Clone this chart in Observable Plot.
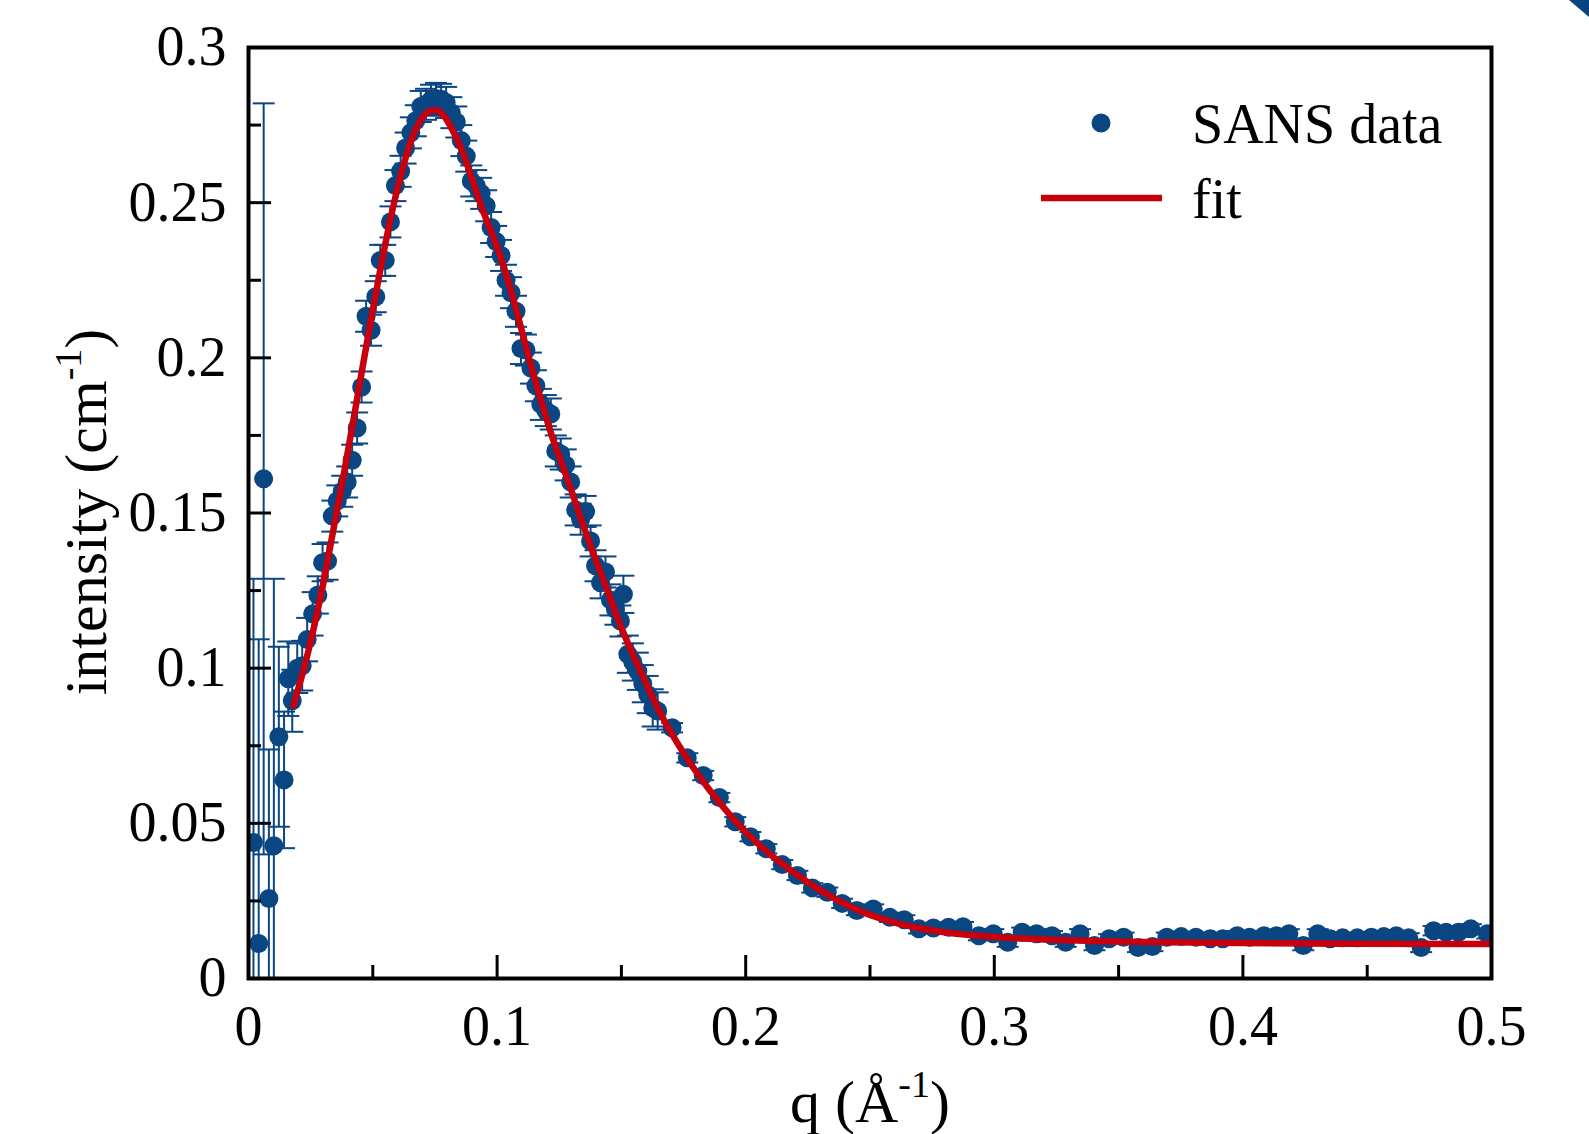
<!DOCTYPE html>
<html>
<head>
<meta charset="utf-8">
<script src="https://cdn.jsdelivr.net/npm/d3@7"></script>
<script src="https://cdn.jsdelivr.net/npm/@observablehq/plot@0.6"></script>
<style>
html,body{margin:0;padding:0;background:#fff;}
#chart{position:relative;width:1589px;height:1134px;overflow:hidden;background:#fff;}
.corner{position:absolute;right:0;top:0;width:20px;height:17px;background:#0a4480;clip-path:polygon(0 0,100% 0,100% 100%);}
</style>
</head>
<body>
<div id="chart"><div class="corner"></div></div>
<script>
// ---- SANS data (q in 1/Å, intensity in 1/cm, error bar half-length) ----
const qData = [
0.0020,0.0041,0.0061,0.0082,0.0102,0.0122,0.0143,0.0160,0.0176,0.0196,
0.0216,0.0236,0.0258,0.0279,0.0298,0.0318,0.0337,0.0357,0.0377,0.0397,
0.0417,0.0437,0.0455,0.0473,0.0493,0.0512,0.0530,0.0550,0.0571,0.0591,
0.0612,0.0632,0.0653,0.0673,0.0693,0.0714,0.0734,0.0754,0.0775,0.0795,
0.0816,0.0836,0.0856,0.0876,0.0896,0.0916,0.0936,0.0956,0.0976,0.0996,
0.1016,0.1036,0.1056,0.1076,0.1096,0.1116,0.1136,0.1156,0.1176,0.1196,
0.1216,0.1236,0.1256,0.1276,0.1296,0.1316,0.1336,0.1356,0.1376,0.1396,
0.1416,0.1436,0.1456,0.1476,0.1496,0.1508,0.1526,0.1546,0.1566,0.1586,
0.1606,0.1626,0.1646,
0.1704,0.1765,0.1829,0.1894,0.1958,0.2019,0.2083,0.2147,0.2208,0.2268,
0.2328,0.2388,0.2447,0.2513,0.2580,0.2638,0.2697,0.2755,0.2816,0.2874,
0.2938,0.2996,0.3054,0.3112,0.3170,0.3232,0.3287,0.3345,0.3403,0.3462,
0.3520,0.3578,0.3636,0.3694,0.3752,0.3811,0.3869,0.3919,0.3977,0.4027,
0.4085,0.4135,0.4185,0.4243,0.4301,0.4351,0.4401,0.4460,0.4517,0.4567,
0.4617,0.4667,0.4717,0.4767,0.4817,0.4867,0.4917,0.4983
];
const iData = [
0.0438,0.0113,0.1610,0.0258,0.0428,0.0779,0.0640,0.0966,0.0895,0.1000,
0.1008,0.1092,0.1175,0.1236,0.1340,0.1345,0.1490,0.1539,0.1570,0.1600,
0.1670,0.1774,0.1906,0.2134,0.2089,0.2197,0.2314,0.2314,0.2438,0.2555,
0.2601,0.2676,0.2725,0.2764,0.2810,0.2817,0.2830,0.2836,0.2833,0.2823,
0.2790,0.2760,0.2700,0.2650,0.2570,0.2555,0.2530,0.2490,0.2420,0.2375,
0.2330,0.2250,0.2210,0.2150,0.2030,0.2025,0.1967,0.1910,0.1850,0.1830,
0.1819,0.1700,0.1690,0.1655,0.1600,0.1510,0.1480,0.1505,0.1410,0.1330,
0.1275,0.1310,0.1220,0.1190,0.1152,0.1238,0.1045,0.1020,0.0990,0.0950,
0.0915,0.0872,0.0862,
0.0808,0.0711,0.0654,0.0583,0.0505,0.0457,0.0418,0.0367,0.0332,0.0292,
0.0278,0.0242,0.0219,0.0224,0.0197,0.0189,0.0160,0.0163,0.0165,0.0167,
0.0138,0.0144,0.0117,0.0149,0.0144,0.0138,0.0117,0.0144,0.0106,0.0128,
0.0133,0.0100,0.0103,0.0133,0.0135,0.0133,0.0128,0.0128,0.0138,0.0133,
0.0138,0.0138,0.0144,0.0106,0.0144,0.0128,0.0131,0.0131,0.0133,0.0135,
0.0138,0.0131,0.0100,0.0154,0.0149,0.0149,0.0160,0.0144
];
const errData = [
0.085,0.098,0.121,0.048,0.086,0.029,0.022,0.012,0.010,0.008,
0.008,0.007,0.007,0.006,0.006,0.006,0.005,0.005,0.005,0.005,
0.005,0.005,0.005,0.005,0.005,0.005,0.005,0.005,0.005,0.005,
0.005,0.005,0.005,0.005,0.005,0.005,0.005,0.005,0.005,0.005,
0.005,0.005,0.005,0.005,0.005,0.005,0.005,0.005,0.005,0.005,
0.005,0.005,0.005,0.005,0.005,0.005,0.005,0.005,0.005,0.005,
0.005,0.005,0.005,0.005,0.005,0.005,0.005,0.005,0.005,0.005,
0.005,0.005,0.005,0.005,0.005,0.006,0.006,0.006,0.006,0.006,
0.006,0.006,0.006,
0.0015,0.0015,0.0015,0.0015,0.0015,0.0015,0.0015,0.0015,0.0015,0.0015,
0.0015,0.0015,0.0015,0.0015,0.0015,0.0015,0.0015,0.0015,0.0015,0.0015,
0.0015,0.0015,0.0015,0.0015,0.0015,0.0015,0.0015,0.0015,0.0015,0.0015,
0.0015,0.0015,0.0015,0.0015,0.0015,0.0015,0.0015,0.0015,0.0015,0.0015,
0.0015,0.0015,0.0015,0.0015,0.0015,0.0015,0.0015,0.0015,0.0015,0.0015,
0.0015,0.0015,0.0015,0.0015,0.0015,0.0015,0.0015,0.0015
];

// ---- fit curve ----
const qFit = [
0.0180,0.0220,0.0260,0.0300,0.0340,0.0380,0.0420,0.0460,0.0500,0.0540,
0.0580,0.0620,0.0660,0.0700,0.0740,0.0760,0.0780,0.0820,0.0860,0.0900,
0.0940,0.0980,0.1020,0.1060,0.1100,0.1140,0.1180,0.1220,0.1260,0.1300,
0.1340,0.1380,0.1420,0.1460,0.1500,0.1540,0.1580,0.1620,0.1660,0.1700,
0.1750,0.1800,0.1850,0.1900,0.1950,0.2000,0.2050,0.2100,0.2150,0.2200,
0.2250,0.2300,0.2350,0.2400,0.2450,0.2500,0.2600,0.2700,0.2800,0.2900,
0.3000,0.3200,0.3400,0.3600,0.3800,0.4000,0.4400,0.5000
];
const iFit = [
0.0880,0.0990,0.1120,0.1270,0.1440,0.1610,0.1790,0.1975,0.2155,0.2325,
0.2480,0.2610,0.2712,0.2775,0.2798,0.2797,0.2785,0.2735,0.2665,0.2575,
0.2480,0.2400,0.2310,0.2205,0.2085,0.1965,0.1855,0.1750,0.1660,0.1570,
0.1475,0.1385,0.1300,0.1215,0.1130,0.1055,0.0985,0.0915,0.0850,0.0792,
0.0727,0.0667,0.0612,0.0562,0.0515,0.0472,0.0434,0.0399,0.0368,0.0338,
0.0310,0.0284,0.0261,0.0240,0.0221,0.0205,0.0180,0.0162,0.0149,0.0140,
0.0134,0.0126,0.0121,0.0118,0.0116,0.0114,0.0112,0.0111
];

// ---- axes ----
const xMajor = [0, 0.1, 0.2, 0.3, 0.4, 0.5];
const xMinor = [0.05, 0.15, 0.25, 0.35, 0.45];
const yMajor = [0, 0.05, 0.1, 0.15, 0.2, 0.25, 0.3];
const yMinor = [0.025, 0.075, 0.125, 0.175, 0.225, 0.275];

const seriesNames = ["SANS data", "fit"];

const blue = "#0a4682";
const red = "#c8000e";

const data = qData.map((q, i) => ({q, I: iData[i], e: errData[i]}));
const fit = qFit.map((q, i) => ({q, I: iFit[i]}));

const hline = {draw(ctx, size) { const r = Math.sqrt(size / Math.PI); ctx.moveTo(-r, 0); ctx.lineTo(r, 0); }};

const plot = Plot.plot({
  width: 1589,
  height: 1134,
  marginLeft: 248,
  marginRight: 98,
  marginTop: 47,
  marginBottom: 156,
  style: {fontFamily: "'Liberation Serif', 'Times New Roman', serif", fontSize: "56px", color: "#000", background: "#fff"},
  x: {domain: [0, 0.5]},
  y: {domain: [0, 0.3]},
  marks: [
    Plot.ruleX(data, {x: "q", y1: d => d.I - d.e, y2: d => d.I + d.e, stroke: blue, strokeWidth: 2, clip: "frame"}),
    Plot.dot(data, {x: "q", y: d => d.I + d.e, symbol: hline, r: 11, stroke: blue, strokeWidth: 2, fill: "none", clip: "frame"}),
    Plot.dot(data, {x: "q", y: d => d.I - d.e, symbol: hline, r: 11, stroke: blue, strokeWidth: 2, fill: "none", clip: "frame"}),
    Plot.dot(data, {x: "q", y: "I", r: 9.5, fill: blue, stroke: "none", clip: "frame"}),
    Plot.line(fit, {x: "q", y: "I", stroke: red, strokeWidth: 6.5, curve: "monotone-x", clip: "frame"}),
    // tick labels
    Plot.axisX({ticks: xMajor, tickSize: 0, tickPadding: 27, label: null, tickFormat: d => String(d)}),
    Plot.axisY({ticks: yMajor, tickSize: 0, tickPadding: 22, label: null, tickFormat: d => String(d)}),
    // inward ticks
    Plot.axisX({ticks: xMajor, tickSize: -23, fill: "none", label: null, strokeWidth: 3, stroke: "#000"}),
    Plot.axisX({ticks: xMinor, tickSize: -13, fill: "none", label: null, strokeWidth: 3, stroke: "#000"}),
    Plot.axisY({ticks: yMajor, tickSize: -23, fill: "none", label: null, strokeWidth: 3, stroke: "#000"}),
    Plot.axisY({ticks: yMinor, tickSize: -13, fill: "none", label: null, strokeWidth: 3, stroke: "#000"}),
    Plot.frame({stroke: "#000", strokeWidth: 4})
  ]
});

document.getElementById("chart").appendChild(plot);

// axis titles and legend
const svg = d3.select(plot);
const ff = "'Liberation Serif', 'Times New Roman', serif";

const xl = svg.append("text").attr("x", 870).attr("y", 1122).attr("text-anchor", "middle")
  .attr("font-family", ff).attr("font-size", 60).attr("fill", "#000");
xl.append("tspan").text("q (Å");
xl.append("tspan").attr("font-size", 38).attr("dy", -25).text("-1");
xl.append("tspan").attr("dy", 25).text(")");

const yl = svg.append("text").attr("transform", "translate(106,512) rotate(-90)").attr("text-anchor", "middle")
  .attr("font-family", ff).attr("font-size", 60).attr("fill", "#000");
yl.append("tspan").text("intensity (cm");
yl.append("tspan").attr("font-size", 38).attr("dy", -25).text("-1");
yl.append("tspan").attr("dy", 25).text(")");

const lg = svg.append("g").attr("font-family", ff).attr("font-size", 56).attr("fill", "#000").attr("text-anchor", "start");
lg.append("circle").attr("cx", 1101).attr("cy", 123).attr("r", 9.5).attr("fill", blue);
lg.append("text").attr("x", 1192).attr("y", 143).attr("text-anchor", "start").text(seriesNames[0]);
lg.append("line").attr("x1", 1041).attr("x2", 1162).attr("y1", 198).attr("y2", 198).attr("stroke", red).attr("stroke-width", 6.5);
lg.append("text").attr("x", 1192).attr("y", 218).attr("text-anchor", "start").text(seriesNames[1]);
</script>
</body>
</html>
